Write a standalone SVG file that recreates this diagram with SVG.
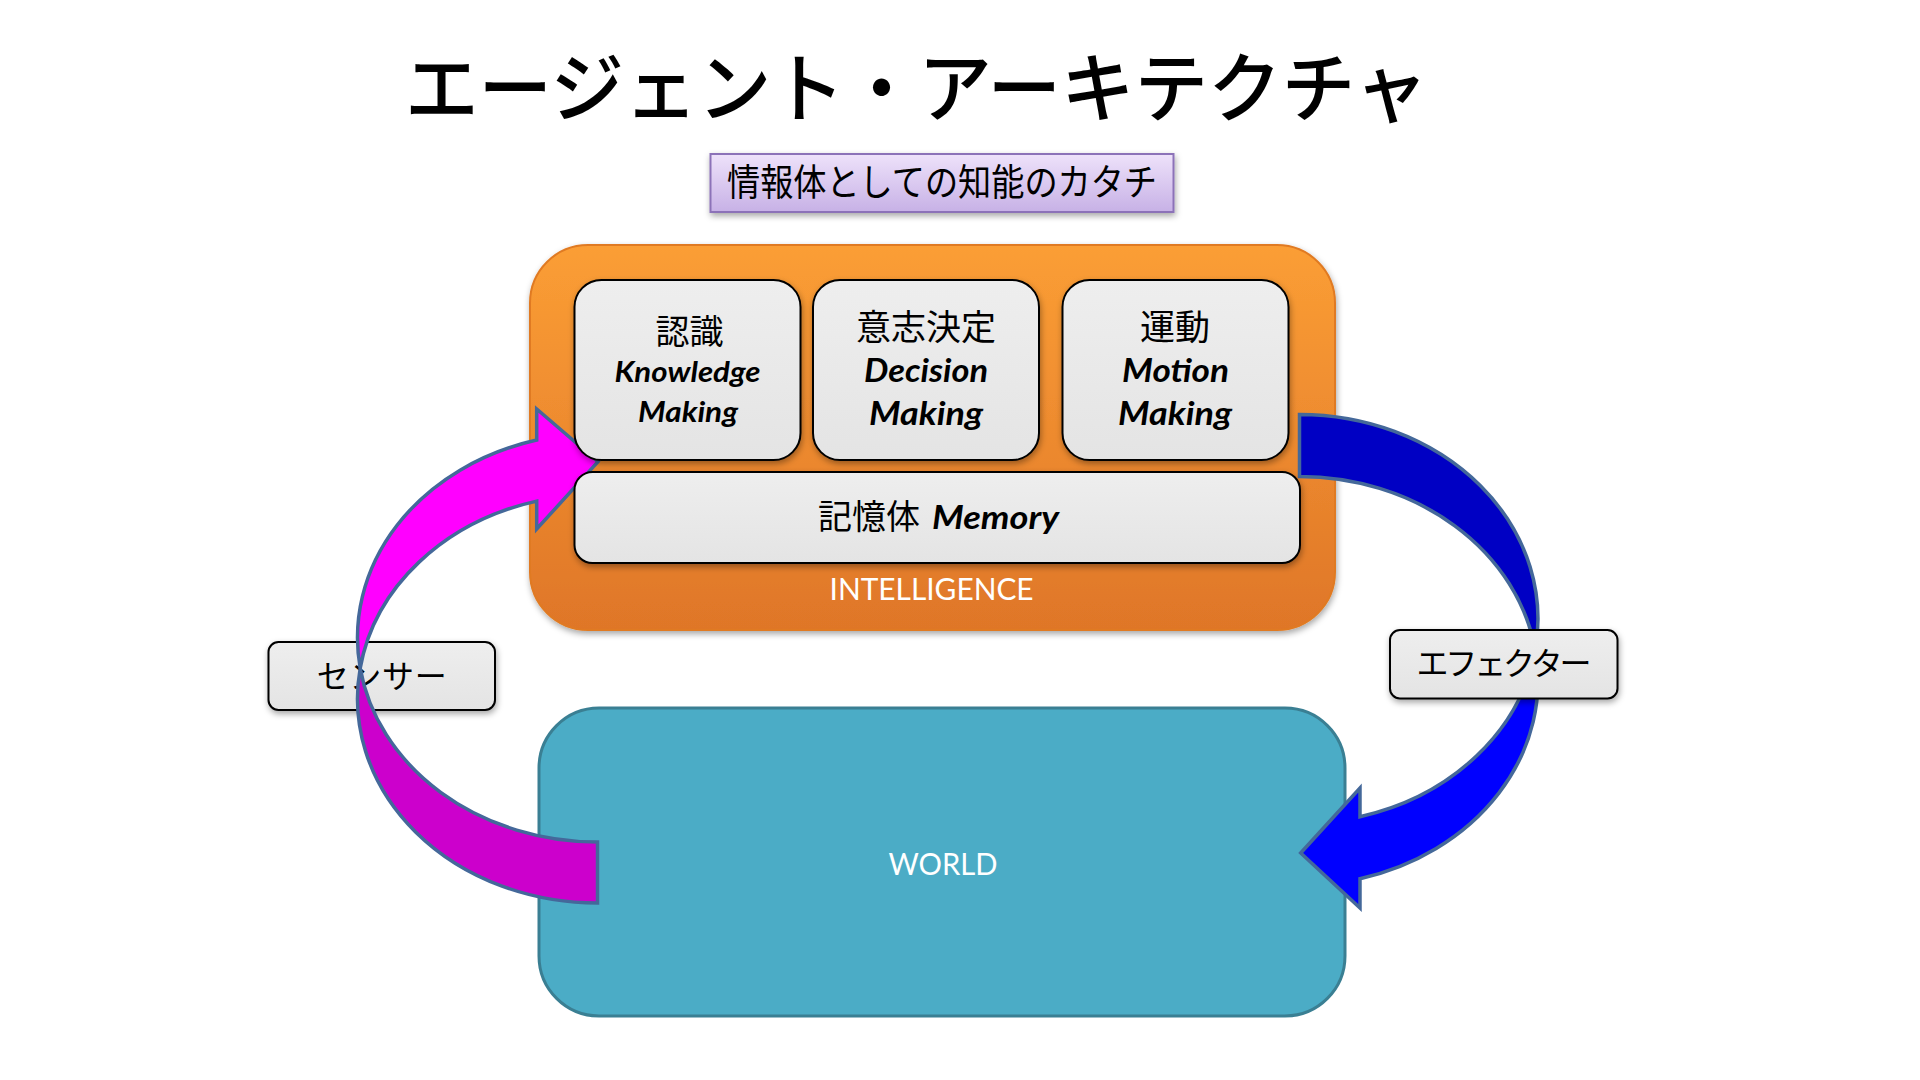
<svg xmlns="http://www.w3.org/2000/svg" width="1920" height="1080" viewBox="0 0 1920 1080">
<defs>
<linearGradient id="gOrange" x1="0" y1="0" x2="0" y2="1">
<stop offset="0" stop-color="#fb9e35"/>
<stop offset="1" stop-color="#df7628"/>
</linearGradient>
<linearGradient id="gLav" x1="0" y1="0" x2="0" y2="1">
<stop offset="0" stop-color="#eee2fa"/>
<stop offset="1" stop-color="#c7b1e6"/>
</linearGradient>
<linearGradient id="gGray" x1="0" y1="0" x2="0" y2="1">
<stop offset="0" stop-color="#eeeeee"/>
<stop offset="1" stop-color="#e4e4e4"/>
</linearGradient>
<filter id="sh" x="-10%" y="-10%" width="120%" height="130%">
<feDropShadow dx="1" dy="3" stdDeviation="3" flood-color="#000" flood-opacity="0.35"/>
</filter>
</defs>
<style>
.jp{font-family:"Noto Sans CJK JP","Noto Sans",sans-serif;fill:#000}
.en{font-family:Lato,"Liberation Sans",sans-serif;font-weight:bold;font-style:italic;fill:#000}
.wt{font-family:Lato,"Liberation Sans",sans-serif;fill:#fff}
.box{fill:url(#gGray);stroke:#000;stroke-width:2;filter:url(#sh)}
.arr{stroke:#44689a;stroke-width:3.5;stroke-linejoin:miter}
</style>
<rect width="1920" height="1080" fill="#fff"/>

<text class="jp" x="916.5" y="116" font-size="76" font-weight="500" text-anchor="middle" textLength="1023" lengthAdjust="spacingAndGlyphs">エージェント・アーキテクチャ</text>

<g id="subtitle">
<rect x="710.5" y="154" width="463" height="58" fill="url(#gLav)" stroke="#8c72b8" stroke-width="2" filter="url(#sh)"/>
<text class="jp" x="942" y="196" font-size="37" text-anchor="middle" textLength="430" lengthAdjust="spacingAndGlyphs">情報体としての知能のカタチ</text>
</g>

<g id="intelligence">
<rect x="530" y="245" width="805" height="385" rx="58" ry="58" fill="url(#gOrange)" stroke="#e07a22" stroke-width="2" filter="url(#sh)"/>
<text class="wt" x="931.6" y="600" font-size="31" text-anchor="middle" textLength="204" lengthAdjust="spacingAndGlyphs">INTELLIGENCE</text>
</g>

<g id="world">
<rect x="539" y="708" width="806" height="308" rx="60" ry="60" fill="#4bacc6" stroke="#3a7f93" stroke-width="3"/>
<text class="wt" x="943" y="875" font-size="31" text-anchor="middle" textLength="109" lengthAdjust="spacingAndGlyphs">WORLD</text>
</g>

<g id="sensor">
<rect x="268.5" y="642" width="226.5" height="68" rx="10" ry="10" class="box"/>
<text class="jp" x="381.7" y="688" font-size="32" text-anchor="middle" textLength="130" lengthAdjust="spacing">センサー</text>
</g>

<g id="connectors">
<g id="sensor-arrow">
<path class="arr" fill="#cc00cc" d="M 360.2 668.2 A 240 204.3 0 0 0 597.5 842 L 597.5 903 A 240 204.3 0 0 1 360.2 668.2 Z"/>
<path class="arr" fill="#ff00ff" d="M 536.7 440 A 240 204.3 0 0 0 360.2 668.2 A 240 204.3 0 0 1 536.7 501.1 L 536.7 529 L 598 461.7 L 536.7 409 Z"/>
</g>
<g id="effector-arrow">
<path class="arr" fill="#0000c4" d="M 1299.5 414.5 A 238.5 204.44 0 0 1 1535.2 649.94 A 238.5 204.44 0 0 0 1299.5 476.5 Z"/>
<path class="arr" fill="#0000ff" d="M 1535.2 649.94 A 238.5 204.44 0 0 1 1360 816.7 L 1360 788 L 1300.7 853 L 1360 908 L 1360 878.7 A 238.5 204.44 0 0 0 1535.2 649.94 Z"/>
</g>
</g>

<g id="recognition">
<rect x="574.5" y="280" width="226" height="180" rx="27" ry="27" class="box"/>
<text class="jp" x="689.4" y="344" font-size="34" text-anchor="middle">認識</text>
<text class="en" x="687.5" y="381.7" font-size="28" text-anchor="middle" textLength="146" lengthAdjust="spacingAndGlyphs">Knowledge</text>
<text class="en" x="688" y="421.7" font-size="28" text-anchor="middle" textLength="100" lengthAdjust="spacingAndGlyphs">Making</text>
</g>

<g id="decision">
<rect x="813" y="280" width="226" height="180" rx="27" ry="27" class="box"/>
<text class="jp" x="926" y="340" font-size="35" text-anchor="middle">意志決定</text>
<text class="en" x="926" y="381.7" font-size="32" text-anchor="middle" textLength="124" lengthAdjust="spacingAndGlyphs">Decision</text>
<text class="en" x="926" y="425" font-size="32" text-anchor="middle" textLength="114" lengthAdjust="spacingAndGlyphs">Making</text>
</g>

<g id="motion">
<rect x="1062.5" y="280" width="226" height="180" rx="27" ry="27" class="box"/>
<text class="jp" x="1175" y="340" font-size="35" text-anchor="middle">運動</text>
<text class="en" x="1175.5" y="381.7" font-size="32" text-anchor="middle" textLength="107" lengthAdjust="spacingAndGlyphs">Motion</text>
<text class="en" x="1175" y="425" font-size="32" text-anchor="middle" textLength="114" lengthAdjust="spacingAndGlyphs">Making</text>
</g>

<g id="memory">
<rect x="574.5" y="472" width="725.5" height="91" rx="18" ry="18" class="box"/>
<text class="jp" x="818" y="529" font-size="34">記憶体</text>
<text class="en" x="932" y="529" font-size="32" textLength="127" lengthAdjust="spacingAndGlyphs">Memory</text>
</g>

<g id="effector">
<rect x="1390" y="630" width="227.5" height="68.5" rx="10" ry="10" class="box"/>
<text class="jp" x="1504" y="675" font-size="32" text-anchor="middle" textLength="175" lengthAdjust="spacing">エフェクター</text>
</g>
</svg>
